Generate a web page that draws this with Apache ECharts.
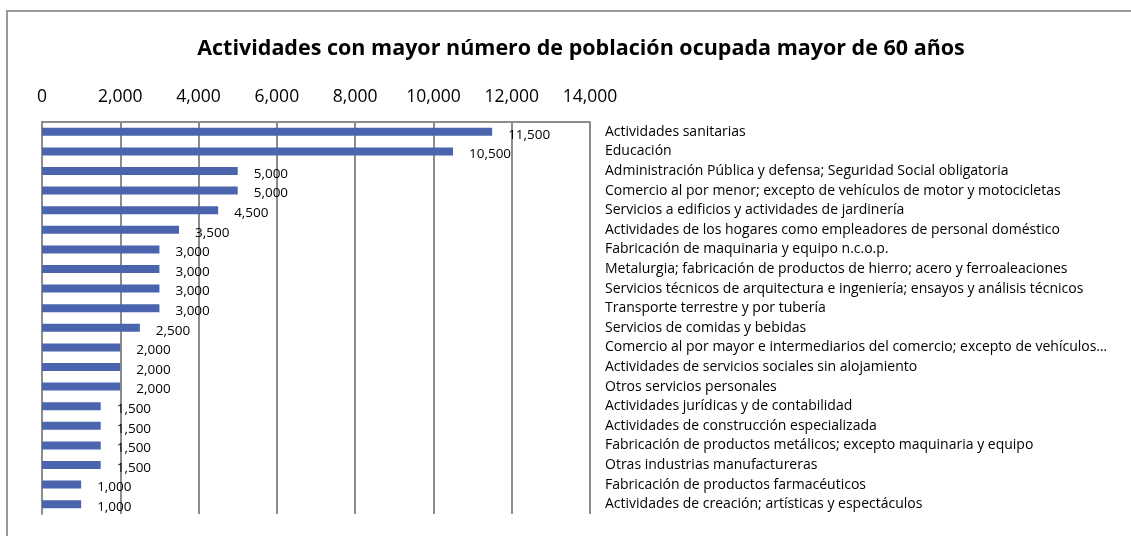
<!DOCTYPE html>
<html>
<head>
<meta charset="utf-8">
<script src="https://cdn.jsdelivr.net/npm/echarts@6/dist/echarts.min.js"></script>
<style>
  html, body { margin: 0; padding: 0; background: #fff; }
  #chart { width: 1131px; height: 536px; }
</style>
</head>
<body>
<div id="chart"></div>
<script>
// actividades, de mayor a menor
var categories = [
  'Actividades sanitarias',
  'Educación',
  'Administración Pública y defensa; Seguridad Social obligatoria',
  'Comercio al por menor; excepto de vehículos de motor y motocicletas',
  'Servicios a edificios y actividades de jardinería',
  'Actividades de los hogares como empleadores de personal doméstico',
  'Fabricación de maquinaria y equipo n.c.o.p.',
  'Metalurgia; fabricación de productos de hierro; acero y ferroaleaciones',
  'Servicios técnicos de arquitectura e ingeniería; ensayos y análisis técnicos',
  'Transporte terrestre y por tubería',
  'Servicios de comidas y bebidas',
  'Comercio al por mayor e intermediarios del comercio; excepto de vehículos…',
  'Actividades de servicios sociales sin alojamiento',
  'Otros servicios personales',
  'Actividades jurídicas y de contabilidad',
  'Actividades de construcción especializada',
  'Fabricación de productos metálicos; excepto maquinaria y equipo',
  'Otras industrias manufactureras',
  'Fabricación de productos farmacéuticos',
  'Actividades de creación; artísticas y espectáculos'
];
var ocupados = [11500, 10500, 5000, 5000, 4500, 3500, 3000, 3000, 3000, 3000,
  2500, 2000, 2000, 2000, 1500, 1500, 1500, 1500, 1000, 1000];
var xTicks = [0, 2000, 4000, 6000, 8000, 10000, 12000, 14000];

var fmt = function (v) { return Number(v).toLocaleString('en-US'); };
var font = '"Open Sans", sans-serif';
var gris = '#8c8c8c';

var myChart = echarts.init(document.getElementById('chart'));
myChart.setOption({
  animation: false,
  title: {
    text: 'Actividades con mayor número de población ocupada mayor de 60 años',
    left: 576, top: 33, textAlign: 'center',
    textStyle: { fontFamily: font, fontWeight: 'bold', fontSize: 21.5, color: '#000' }
  },
  graphic: [{
    type: 'rect', silent: true,
    shape: { x: 7, y: 11, width: 1200, height: 600 },
    style: { fill: 'none', stroke: '#999', lineWidth: 2 }
  }],
  grid: { left: 42, top: 122, right: 541, bottom: 22 },
  xAxis: {
    type: 'value', position: 'top',
    min: xTicks[0], max: xTicks[xTicks.length - 1], interval: 2000,
    axisLine: { show: true, lineStyle: { color: gris, width: 2 } },
    axisTick: { show: false },
    splitLine: { lineStyle: { color: gris, width: 2 } },
    axisLabel: { margin: 16, fontFamily: font, fontSize: 17.5, color: '#000', formatter: fmt }
  },
  yAxis: [{
    type: 'category', data: categories, inverse: true,
    axisLine: { lineStyle: { color: gris, width: 2 } },
    axisTick: { inside: true, length: 4, lineStyle: { color: gris } },
    axisLabel: { show: false }
  }, {
    type: 'category', data: categories, inverse: true, position: 'right',
    axisLine: { show: false }, axisTick: { show: false },
    axisLabel: { align: 'left', margin: 15, fontFamily: font, fontSize: 14, color: '#000' }
  }],
  series: [{
    type: 'bar', data: ocupados, yAxisIndex: 0,
    barWidth: 8,
    itemStyle: { color: '#4a64ad' },
    label: {
      show: true, position: 'right', distance: 16, offset: [0, 3],
      fontFamily: font, fontSize: 13.5, color: '#000',
      formatter: function (p) { return fmt(p.value); }
    }
  }]
});
</script>
</body>
</html>
